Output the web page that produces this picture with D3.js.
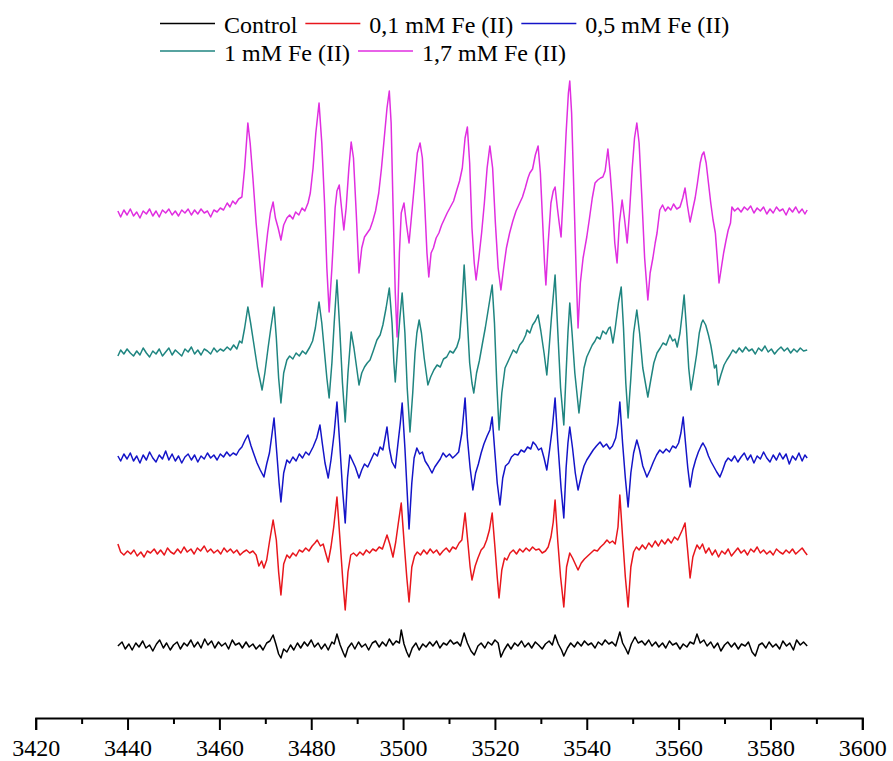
<!DOCTYPE html>
<html>
<head>
<meta charset="utf-8">
<script src="https://cdn.jsdelivr.net/npm/d3@7"></script>
<style>
  html, body { margin: 0; padding: 0; background: #fff; }
  svg { display: block; }
  text { font-family: "Liberation Serif", "Times New Roman", "DejaVu Serif", serif; }
</style>
</head>
<body>
<svg id="chart" width="893" height="761"></svg>
<script>
// ---------------- DATA ----------------
// x axis (magnetic field, G)
const xTicksMajor = [3420, 3440, 3460, 3480, 3500, 3520, 3540, 3560, 3580, 3600];
const xTicksMinor = [3430, 3450, 3470, 3490, 3510, 3530, 3550, 3570, 3590];

const seriesNames = ["Control", "0,1 mM Fe (II)", "0,5 mM Fe (II)", "1 mM Fe (II)", "1,7 mM Fe (II)"];
// vertical offsets of the stacked spectra (arbitrary units)
const seriesOffsets = [72, 166, 260, 365, 505];

// each spectrum: [field (G), signal (a.u.)]
const controlData = [[3437.9,0],[3438.8,4],[3439.5,-3],[3440.3,2],[3441.0,-4],[3441.8,3],[3442.5,-1],[3443.3,5],[3444.0,-2],[3444.8,1],[3445.5,-5],[3446.3,2],[3447.0,6],[3447.8,-2],[3448.5,3],[3449.3,-4],[3450.0,1],[3450.8,4],[3451.5,-3],[3452.3,3],[3453.0,0],[3453.8,6],[3454.5,-1],[3455.3,4],[3456.0,-2],[3456.8,7],[3457.5,1],[3458.3,5],[3459.0,-2],[3459.8,4],[3460.5,0],[3461.3,3],[3462.0,-3],[3462.8,6],[3463.5,1],[3464.3,3],[3465.0,-2],[3465.8,4],[3466.5,-1],[3467.3,2],[3468.0,-3],[3468.8,1],[3469.5,-4],[3470.3,3],[3471.0,5],[3471.7,11],[3472.3,2],[3472.9,-8],[3473.4,-12],[3474.0,-3],[3474.7,-6],[3475.5,1],[3476.2,-4],[3477.0,3],[3477.7,-2],[3478.5,4],[3479.2,0],[3480.0,6],[3480.7,-1],[3481.5,3],[3482.2,-3],[3483.0,2],[3483.7,-4],[3484.5,4],[3485.0,2],[3485.6,12],[3486.3,1],[3487.0,-7],[3487.4,-11],[3488.0,-2],[3488.8,3],[3489.5,-3],[3490.3,4],[3491.0,-1],[3491.8,2],[3492.5,-4],[3493.3,3],[3494.0,5],[3494.8,-1],[3495.5,4],[3496.3,0],[3497.0,7],[3497.8,1],[3498.5,5],[3499.2,3],[3499.6,16],[3500.2,2],[3500.8,-6],[3501.3,-11],[3502.0,-2],[3502.8,3],[3503.5,-4],[3504.3,2],[3505.0,-1],[3505.8,4],[3506.5,0],[3507.3,5],[3508.0,-2],[3508.8,3],[3509.5,1],[3510.3,6],[3511.0,2],[3511.8,4],[3512.5,0],[3513.3,13],[3514.0,3],[3514.8,-5],[3515.5,-9],[3516.3,0],[3517.0,3],[3517.8,-2],[3518.5,4],[3519.3,1],[3520.0,6],[3520.7,3],[3521.3,-11],[3522.0,-4],[3522.8,2],[3523.5,-3],[3524.3,3],[3525.0,0],[3525.8,5],[3526.5,-1],[3527.3,3],[3528.0,-2],[3528.8,4],[3529.5,1],[3530.3,-3],[3531.0,2],[3531.8,5],[3532.5,1],[3533.1,11],[3533.8,2],[3534.5,-4],[3535.0,-10],[3535.8,-2],[3536.5,3],[3537.3,-1],[3538.0,4],[3538.8,0],[3539.5,5],[3540.3,1],[3541.0,3],[3541.8,-2],[3542.5,4],[3543.3,1],[3544.0,6],[3544.8,2],[3545.5,4],[3546.3,0],[3547.2,14],[3547.8,3],[3548.5,-3],[3549.0,-8],[3549.7,2],[3550.5,9],[3551.2,3],[3552.0,5],[3552.7,1],[3553.5,6],[3554.2,0],[3555.0,4],[3555.7,-1],[3556.5,3],[3557.2,-2],[3558.0,5],[3558.7,1],[3559.5,3],[3560.3,-3],[3561.0,2],[3561.8,-1],[3562.5,4],[3563.3,2],[3564.0,12],[3564.7,3],[3565.5,6],[3566.2,0],[3567.0,4],[3567.7,-2],[3568.5,3],[3569.2,-5],[3570.0,1],[3570.7,4],[3571.5,-1],[3572.2,3],[3573.0,-3],[3573.7,2],[3574.5,0],[3575.2,4],[3576.0,-6],[3576.7,-10],[3577.5,1],[3578.2,3],[3579.0,-2],[3579.7,4],[3580.5,-1],[3581.2,2],[3582.0,-3],[3582.7,5],[3583.5,0],[3584.2,3],[3585.0,-4],[3585.7,6],[3586.5,1],[3587.2,4],[3588.0,0]];

const fe01Data = [[3437.9,8],[3438.5,0],[3439.2,-3],[3440.0,1],[3440.7,-2],[3441.4,2],[3442.1,-4],[3442.9,0],[3443.6,-5],[3444.3,1],[3445.0,-1],[3445.8,3],[3446.5,-2],[3447.2,2],[3448.0,-3],[3448.7,4],[3449.4,0],[3450.1,-2],[3450.9,3],[3451.6,-1],[3452.3,5],[3453.0,0],[3453.8,3],[3454.5,-2],[3455.2,4],[3455.9,1],[3456.7,6],[3457.4,0],[3458.1,3],[3458.8,-1],[3459.6,2],[3460.3,-2],[3461.0,4],[3461.7,0],[3462.4,3],[3463.1,-1],[3463.8,2],[3464.5,-3],[3465.2,0],[3465.9,2],[3466.6,-1],[3467.3,1],[3468.0,-3],[3468.6,-14],[3469.2,-9],[3469.7,-16],[3470.3,-8],[3470.9,10],[3471.7,32],[3472.4,12],[3472.9,-20],[3473.4,-43],[3474.0,-12],[3474.7,-3],[3475.3,-6],[3476.0,-1],[3476.7,-4],[3477.4,2],[3478.1,0],[3478.8,4],[3479.5,1],[3480.2,6],[3480.8,9],[3481.3,12],[3482.0,6],[3482.6,8],[3483.2,-2],[3483.7,-10],[3484.3,5],[3484.9,25],[3485.6,55],[3486.3,10],[3486.9,-30],[3487.4,-58],[3488.0,-20],[3488.6,-3],[3489.2,-1],[3489.9,-4],[3490.6,0],[3491.3,-3],[3492.0,2],[3492.7,-1],[3493.4,3],[3494.1,1],[3494.8,5],[3495.5,3],[3496.0,10],[3496.5,17],[3497.1,8],[3497.8,-5],[3498.4,10],[3499.0,30],[3499.6,49],[3500.3,5],[3500.8,-25],[3501.3,-50],[3501.9,-15],[3502.5,-4],[3503.1,0],[3503.8,-3],[3504.5,2],[3505.2,-2],[3505.9,3],[3506.6,-1],[3507.3,2],[3508.0,-3],[3508.7,1],[3509.4,4],[3510.1,0],[3510.8,5],[3511.5,3],[3512.2,9],[3512.8,12],[3513.5,39],[3514.1,10],[3514.6,-15],[3515.0,-28],[3515.7,-14],[3516.3,-6],[3517.0,2],[3517.6,5],[3518.2,12],[3518.8,22],[3519.4,39],[3520.0,5],[3520.5,-25],[3520.9,-46],[3521.5,-18],[3522.1,-6],[3522.6,-8],[3523.3,-1],[3524.0,2],[3524.7,-2],[3525.4,3],[3526.1,0],[3526.8,4],[3527.5,1],[3528.2,5],[3528.9,2],[3529.6,3],[3530.3,-1],[3531.0,1],[3531.6,5],[3532.2,15],[3532.7,30],[3533.1,52],[3533.7,10],[3534.3,-25],[3535.0,-55],[3535.6,-15],[3536.3,-1],[3536.9,-6],[3537.5,-12],[3538.1,-18],[3538.8,-11],[3539.5,-7],[3540.2,-4],[3540.9,-1],[3541.6,2],[3542.3,1],[3543.0,5],[3543.7,8],[3544.4,12],[3545.0,9],[3545.6,11],[3546.2,8],[3546.8,25],[3547.2,57],[3547.8,15],[3548.4,-25],[3549.0,-55],[3549.6,-15],[3550.2,0],[3550.8,5],[3551.4,2],[3552.1,7],[3552.8,3],[3553.5,9],[3554.2,5],[3554.9,11],[3555.6,6],[3556.3,12],[3557.0,8],[3557.7,13],[3558.4,9],[3559.1,15],[3559.8,12],[3560.3,17],[3560.8,22],[3561.4,29],[3561.9,5],[3562.5,-26],[3563.1,-5],[3563.6,2],[3564.0,7],[3564.6,3],[3565.2,8],[3565.9,-1],[3566.6,4],[3567.3,-3],[3568.0,2],[3568.7,-5],[3569.4,1],[3570.1,-2],[3570.8,3],[3571.5,-4],[3572.2,0],[3572.9,4],[3573.6,-1],[3574.3,2],[3575.0,-3],[3575.7,3],[3576.4,0],[3577.1,5],[3577.8,-1],[3578.5,2],[3579.2,-2],[3579.9,1],[3580.6,-3],[3581.3,3],[3582.0,0],[3582.7,-2],[3583.4,2],[3584.1,-1],[3584.8,3],[3585.5,-2],[3586.2,1],[3586.9,4],[3587.5,0],[3588.0,-3]];

const fe05Data = [[3437.9,2],[3438.5,-3],[3439.2,4],[3439.9,-1],[3440.6,5],[3441.3,-3],[3442.0,2],[3442.7,-5],[3443.4,3],[3444.1,-2],[3444.8,6],[3445.5,0],[3446.2,-4],[3446.9,3],[3447.6,-1],[3448.3,7],[3449.0,-2],[3449.7,4],[3450.4,-3],[3451.1,2],[3451.8,-5],[3452.5,1],[3453.2,4],[3453.9,-2],[3454.6,3],[3455.3,-4],[3456.0,2],[3456.7,-1],[3457.4,5],[3458.1,0],[3458.8,3],[3459.5,-2],[3460.2,4],[3460.9,1],[3461.6,6],[3462.3,2],[3463.0,5],[3463.7,3],[3464.3,8],[3464.9,11],[3465.6,18],[3466.2,23],[3466.9,12],[3467.5,4],[3468.2,-5],[3468.9,-12],[3469.7,-19],[3470.3,-6],[3470.9,5],[3471.4,22],[3471.9,40],[3472.5,5],[3473.0,-25],[3473.4,-44],[3474.0,-15],[3474.7,-2],[3475.3,-5],[3476.0,1],[3476.7,-3],[3477.4,4],[3478.1,0],[3478.8,6],[3479.5,3],[3480.4,11],[3481.2,20],[3481.9,33],[3482.4,15],[3483.0,-5],[3483.7,-20],[3484.3,-2],[3485.0,25],[3485.6,56],[3486.2,15],[3486.8,-30],[3487.4,-65],[3487.9,-20],[3488.4,3],[3489.0,-3],[3489.6,-9],[3490.4,-20],[3491.0,-12],[3491.6,-6],[3492.3,-9],[3493.0,-2],[3493.7,5],[3494.4,2],[3495.0,11],[3495.6,8],[3496.0,18],[3496.5,31],[3497.0,10],[3497.6,-4],[3498.3,-10],[3498.9,15],[3499.4,35],[3499.8,55],[3500.4,10],[3500.9,-35],[3501.3,-71],[3501.9,-25],[3502.4,0],[3503.0,10],[3503.6,4],[3504.2,6],[3504.8,-3],[3505.5,-8],[3506.3,-15],[3506.9,-9],[3507.5,-5],[3508.1,-1],[3508.7,5],[3509.4,1],[3510.1,4],[3510.8,0],[3511.5,3],[3512.1,6],[3512.8,25],[3513.5,60],[3514.0,20],[3514.6,-10],[3515.2,-32],[3515.8,-15],[3516.4,-6],[3517.0,5],[3517.6,14],[3518.3,22],[3518.9,28],[3519.4,41],[3520.0,5],[3520.5,-25],[3521.1,-47],[3521.7,-20],[3522.3,-8],[3523.0,-5],[3523.6,1],[3524.3,4],[3525.0,3],[3525.7,8],[3526.4,6],[3527.1,11],[3527.8,9],[3528.3,16],[3528.9,13],[3529.5,8],[3530.1,10],[3530.7,0],[3531.3,-12],[3531.9,8],[3532.5,30],[3533.1,60],[3533.7,15],[3534.4,-30],[3535.0,-60],[3535.5,-10],[3535.9,15],[3536.3,31],[3536.9,10],[3537.5,-15],[3538.1,-32],[3538.8,-18],[3539.4,-8],[3540.0,-2],[3540.7,3],[3541.4,8],[3542.1,12],[3542.9,16],[3543.6,11],[3544.3,14],[3545.0,9],[3545.6,12],[3546.3,20],[3546.8,35],[3547.2,56],[3547.8,15],[3548.4,-20],[3549.0,-49],[3549.6,-15],[3550.2,5],[3550.9,18],[3551.5,8],[3552.2,-8],[3553.1,-19],[3553.8,-12],[3554.5,-4],[3555.2,3],[3555.9,8],[3556.6,5],[3557.3,9],[3558.0,6],[3558.7,12],[3559.4,10],[3560.0,15],[3560.5,25],[3561.0,41],[3561.5,15],[3562.0,-10],[3562.5,-29],[3563.1,-12],[3563.7,-2],[3564.3,6],[3564.9,12],[3565.3,15],[3565.9,10],[3566.5,2],[3567.1,-4],[3567.7,-9],[3568.3,-14],[3569.0,-19],[3569.6,-12],[3570.2,-4],[3570.8,0],[3571.5,-3],[3572.2,2],[3572.9,-4],[3573.6,1],[3574.3,5],[3575.0,-2],[3575.7,3],[3576.4,-5],[3577.1,2],[3577.8,-1],[3578.5,6],[3579.2,0],[3579.9,-4],[3580.6,3],[3581.3,-2],[3582.0,5],[3582.7,-1],[3583.4,4],[3584.1,-6],[3584.8,2],[3585.5,-2],[3586.2,5],[3586.9,-3],[3587.5,3],[3588.0,0]];

const fe1Data = [[3437.9,-3],[3438.5,3],[3439.2,-1],[3439.9,4],[3440.6,0],[3441.3,-3],[3442.0,2],[3442.7,-2],[3443.4,5],[3444.1,0],[3444.8,-4],[3445.5,2],[3446.2,-1],[3446.9,4],[3447.6,-3],[3448.3,1],[3449.0,5],[3449.7,-2],[3450.4,3],[3451.1,0],[3451.8,-3],[3452.5,4],[3453.2,1],[3453.9,6],[3454.6,-1],[3455.3,3],[3456.0,-2],[3456.7,4],[3457.4,2],[3458.1,-1],[3458.8,5],[3459.5,1],[3460.2,4],[3460.9,2],[3461.7,6],[3462.4,3],[3463.1,8],[3463.8,4],[3464.4,12],[3464.9,10],[3465.5,25],[3466.2,46],[3466.8,30],[3467.4,12],[3468.3,-15],[3468.9,-28],[3469.3,-37],[3469.9,-20],[3470.6,5],[3471.2,25],[3471.9,46],[3472.4,15],[3472.9,-25],[3473.4,-50],[3474.0,-20],[3474.7,-7],[3475.3,-3],[3476.0,-6],[3476.7,0],[3477.4,-3],[3478.1,2],[3478.8,-1],[3479.7,6],[3480.3,12],[3480.9,25],[3481.7,51],[3482.3,30],[3482.9,0],[3483.4,-25],[3483.9,-45],[3484.5,-10],[3485.0,30],[3485.6,73],[3486.2,25],[3486.8,-30],[3487.4,-69],[3488.0,-20],[3488.7,21],[3489.3,5],[3489.9,-15],[3490.4,-32],[3491.0,-20],[3491.6,-14],[3492.2,-10],[3492.8,-7],[3493.5,2],[3494.3,13],[3495.0,18],[3495.6,28],[3496.3,45],[3497.0,65],[3497.6,30],[3498.0,-10],[3498.3,-29],[3498.8,5],[3499.3,35],[3499.8,60],[3500.4,20],[3500.9,-35],[3501.5,-79],[3502.1,-40],[3502.6,0],[3503.0,20],[3503.5,33],[3504.0,20],[3504.6,-5],[3505.4,-32],[3506.0,-24],[3506.7,-17],[3507.4,-12],[3508.1,-14],[3508.8,-6],[3509.5,-4],[3510.2,2],[3510.9,0],[3511.7,6],[3512.3,15],[3512.8,45],[3513.3,88],[3513.9,40],[3514.5,-10],[3515.0,-30],[3515.4,-40],[3516.0,-20],[3516.6,-8],[3517.3,10],[3517.9,25],[3518.6,45],[3519.4,68],[3519.9,30],[3520.4,-30],[3520.9,-77],[3521.5,-40],[3522.2,-15],[3523.3,-4],[3524.0,3],[3524.7,0],[3525.4,8],[3526.1,12],[3526.7,18],[3527.0,23],[3527.6,20],[3528.2,28],[3528.8,32],[3529.4,38],[3530.0,22],[3530.7,0],[3531.3,-22],[3531.8,5],[3532.3,35],[3533.1,78],[3533.6,30],[3534.3,-35],[3535.0,-72],[3535.5,-20],[3535.9,20],[3536.3,50],[3536.8,20],[3537.4,-20],[3538.3,-60],[3538.9,-35],[3539.4,-15],[3540.0,-4],[3540.6,2],[3541.2,8],[3541.8,12],[3542.2,16],[3542.9,14],[3543.5,22],[3544.2,19],[3544.8,25],[3545.1,26],[3545.7,10],[3546.2,25],[3546.9,50],[3547.5,66],[3548.0,25],[3548.5,-30],[3549.0,-65],[3549.6,-25],[3550.2,20],[3550.9,43],[3551.5,20],[3552.2,-15],[3553.3,-44],[3553.9,-28],[3554.6,-10],[3555.3,0],[3556.0,5],[3556.6,10],[3557.3,8],[3558.1,18],[3558.7,12],[3559.2,14],[3559.7,6],[3560.3,20],[3560.8,40],[3561.2,58],[3561.7,25],[3562.2,-15],[3562.7,-37],[3563.3,-20],[3563.9,-2],[3564.5,20],[3565.0,30],[3565.3,33],[3565.9,28],[3566.5,18],[3567.0,8],[3567.3,0],[3567.8,-15],[3568.2,-12],[3568.6,-32],[3569.2,-22],[3569.9,-12],[3570.5,-7],[3571.2,-2],[3571.8,3],[3572.5,0],[3573.2,5],[3573.9,1],[3574.6,6],[3575.3,2],[3576.0,4],[3576.7,-1],[3577.4,5],[3578.1,2],[3578.8,7],[3579.5,1],[3580.2,4],[3580.9,-1],[3581.6,3],[3582.3,6],[3583.0,2],[3583.7,5],[3584.4,0],[3585.1,4],[3585.8,1],[3586.5,5],[3587.2,2],[3588.0,3]];

const fe17Data = [[3437.9,2],[3438.5,-4],[3439.2,3],[3439.9,-2],[3440.6,4],[3441.3,-3],[3442.0,1],[3442.7,-5],[3443.4,2],[3444.1,-1],[3444.8,4],[3445.5,-3],[3446.2,2],[3446.9,-4],[3447.6,3],[3448.3,0],[3449.0,4],[3449.7,-2],[3450.4,2],[3451.1,-3],[3451.8,3],[3452.5,0],[3453.2,4],[3453.9,-2],[3454.6,3],[3455.3,-1],[3456.0,4],[3456.7,0],[3457.4,2],[3458.1,-4],[3458.8,3],[3459.5,1],[3460.2,5],[3460.9,3],[3461.7,10],[3462.3,6],[3462.9,12],[3463.5,9],[3464.2,14],[3464.9,16],[3465.5,45],[3466.2,90],[3466.7,70],[3467.3,35],[3468.0,-10],[3468.7,-45],[3469.3,-74],[3469.9,-45],[3470.5,-20],[3471.1,0],[3471.7,11],[3472.2,-5],[3472.8,-15],[3473.4,-27],[3474.0,-12],[3474.7,-5],[3475.3,-2],[3476.0,-6],[3476.6,1],[3477.3,-2],[3478.0,5],[3478.6,2],[3479.3,10],[3479.8,20],[3480.4,45],[3481.0,80],[3481.7,110],[3482.3,70],[3482.9,10],[3483.4,-55],[3483.9,-99],[3484.5,-55],[3485.2,5],[3485.6,22],[3486.1,28],[3486.6,5],[3487.1,-17],[3487.6,5],[3488.2,45],[3488.7,71],[3489.2,55],[3489.8,0],[3490.4,-60],[3491.0,-35],[3491.6,-24],[3492.2,-20],[3492.8,-16],[3493.4,-8],[3494.0,2],[3494.7,20],[3495.3,45],[3495.9,75],[3496.5,105],[3497.0,122],[3497.4,90],[3497.8,10],[3498.3,-80],[3498.7,-124],[3499.2,-40],[3499.6,0],[3500.2,10],[3500.7,-10],[3501.3,-30],[3501.9,0],[3502.5,30],[3503.1,60],[3503.7,70],[3504.2,55],[3504.7,10],[3505.2,-40],[3505.6,-64],[3506.1,-40],[3506.6,-35],[3507.2,-25],[3507.8,-20],[3508.4,-12],[3509.0,-6],[3509.6,0],[3510.3,6],[3511.0,12],[3511.7,23],[3512.3,32],[3512.9,45],[3513.5,75],[3514.0,86],[3514.5,50],[3515.0,-15],[3515.5,-50],[3515.9,-67],[3516.5,-45],[3517.1,-20],[3517.7,10],[3518.3,45],[3518.9,67],[3519.5,45],[3520.1,-10],[3520.7,-55],[3521.3,-77],[3521.9,-55],[3522.5,-35],[3523.2,-20],[3523.9,-8],[3524.6,2],[3525.4,10],[3526.0,16],[3526.6,25],[3527.2,35],[3527.6,40],[3528.2,44],[3528.8,58],[3529.4,67],[3529.9,40],[3530.4,-10],[3530.8,-50],[3531.1,-72],[3531.6,-30],[3532.2,10],[3532.7,22],[3533.1,26],[3533.6,5],[3534.0,-10],[3534.4,-24],[3534.9,20],[3535.5,80],[3536.0,120],[3536.3,132],[3536.7,100],[3537.2,20],[3537.7,-60],[3538.1,-115],[3538.6,-70],[3539.2,-45],[3540.0,-24],[3540.6,-5],[3541.2,15],[3541.8,30],[3542.4,33],[3543.0,35],[3543.5,36],[3544.0,42],[3544.6,64],[3545.1,40],[3545.6,10],[3546.1,-30],[3546.6,-50],[3547.1,-10],[3547.7,13],[3548.2,-5],[3548.8,-30],[3549.3,0],[3549.9,45],[3550.4,75],[3550.9,90],[3551.4,70],[3552.0,15],[3552.6,-45],[3553.3,-87],[3553.8,-60],[3554.4,-45],[3554.9,-30],[3555.3,-20],[3555.9,3],[3556.5,8],[3557.1,2],[3557.7,6],[3558.3,3],[3558.9,9],[3559.6,4],[3560.3,6],[3560.9,15],[3561.4,25],[3561.9,8],[3562.5,-9],[3563.0,2],[3563.6,15],[3564.1,30],[3564.7,50],[3565.1,58],[3565.5,61],[3566.0,50],[3566.5,30],[3567.0,10],[3567.5,-7],[3568.0,-20],[3568.5,-50],[3568.8,-70],[3569.3,-55],[3569.8,-40],[3570.3,-28],[3570.8,-17],[3571.3,-10],[3571.6,6],[3572.2,2],[3572.9,5],[3573.6,1],[3574.3,6],[3575.0,3],[3575.7,7],[3576.4,0],[3577.1,5],[3577.8,2],[3578.5,6],[3579.2,-1],[3579.9,4],[3580.6,0],[3581.3,6],[3582.0,2],[3582.7,4],[3583.4,-2],[3584.1,5],[3584.8,1],[3585.5,6],[3586.2,0],[3586.9,4],[3587.5,-1],[3588.0,3]];

const seriesData = [controlData, fe01Data, fe05Data, fe1Data, fe17Data];
const seriesColors = ["#000000", "#e8161c", "#1414c8", "#1f8580", "#e02ee0"];

// ---------------- DRAW ----------------
const svg = d3.select("#chart");
const FONT = "\"Liberation Serif\", \"Times New Roman\", \"DejaVu Serif\", serif";

const x = d3.scaleLinear().domain([3420, 3600]).range([35.7, 862.3]);
const y = d3.scaleLinear().domain([0, 718]).range([718, 0]);

// spectra
const line = d3.line().x(d => x(d[0])).y(d => y(d[1]));
seriesData.forEach((data, i) => {
  const off = seriesOffsets[i];
  svg.append("path")
    .datum(data.map(d => [d[0], d[1] + off]))
    .attr("fill", "none")
    .attr("stroke", seriesColors[i])
    .attr("stroke-width", 1.5)
    .attr("stroke-linejoin", "round")
    .attr("d", line);
});

// x axis
const axisG = svg.append("g").attr("transform", "translate(0,718)");
axisG.call(d3.axisBottom(x).tickValues(xTicksMajor).tickSize(12).tickSizeOuter(12).tickPadding(9).tickFormat(d3.format("d")));
axisG.attr("font-family", null).attr("font-size", null);
axisG.selectAll("path.domain").attr("stroke", "#000").attr("stroke-width", 2);
axisG.selectAll(".tick line").attr("stroke", "#000").attr("stroke-width", 2);
axisG.selectAll(".tick text").style("font-family", FONT).style("font-size", "24px").attr("fill", "#000");

const minorG = svg.append("g").attr("transform", "translate(0,718)");
minorG.call(d3.axisBottom(x).tickValues(xTicksMinor).tickSize(6).tickFormat(""));
minorG.select("path.domain").remove();
minorG.selectAll(".tick line").attr("stroke", "#000").attr("stroke-width", 2);

// legend
const legendRows = [[0, 1, 2], [3, 4]];
const rowY = [23.5, 51];
legendRows.forEach((row, r) => {
  let cx = 160;
  row.forEach(i => {
    svg.append("line")
      .attr("x1", cx).attr("x2", cx + 55)
      .attr("y1", rowY[r]).attr("y2", rowY[r])
      .attr("stroke", seriesColors[i]).attr("stroke-width", 1.4);
    cx += 55 + 9;
    const t = svg.append("text")
      .attr("x", cx).attr("y", rowY[r] + 9.5)
      .style("font-family", FONT).style("font-size", "24px").attr("fill", "#000")
      .text(seriesNames[i]);
    cx += t.node().getComputedTextLength() + 8;
  });
});
</script>
</body>
</html>
